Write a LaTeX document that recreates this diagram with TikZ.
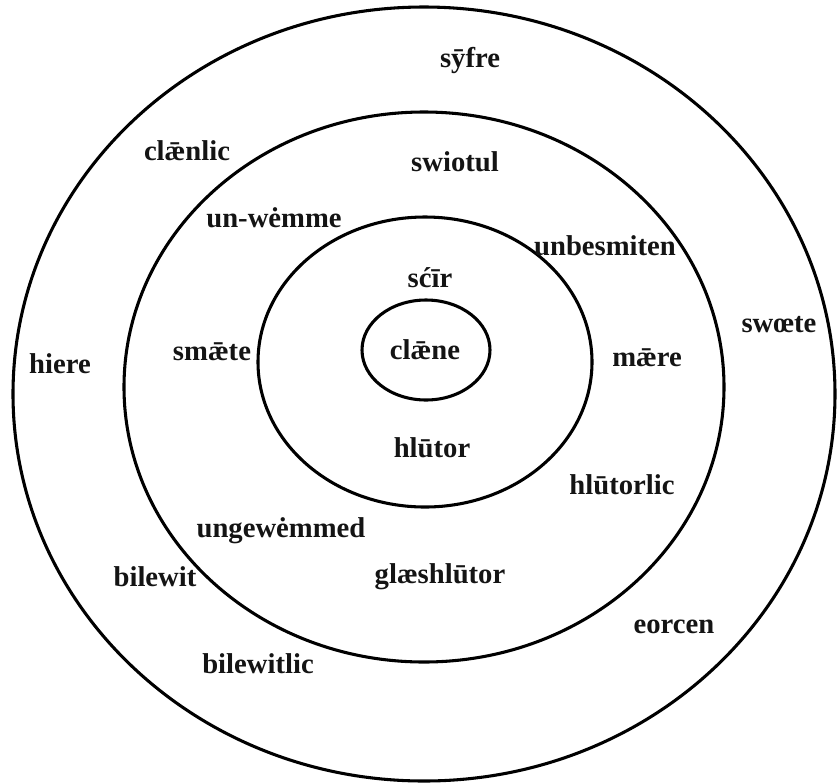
\documentclass[tikz,border=0pt]{standalone}
\usepackage{fontspec}
\setmainfont{Liberation Serif}
\usetikzlibrary{positioning}
\definecolor{ringc}{RGB}{0,0,0}
\definecolor{wordc}{RGB}{20,20,20}
\tikzset{
  ring/.style={draw=ringc,line width=2.3pt},
  word/.style={font=\fontsize{21.5}{24}\selectfont\bfseries,text=wordc,inner sep=0pt}
}

\begin{document}
\begin{tikzpicture}[x=0.75pt,y=-0.75pt]

\useasboundingbox (0,0) rectangle (839,783);
% rings: {cx, cy, rx, ry}
\foreach \cx/\cy/\rx/\ry in {
   424/394/411/387,
   424/387/300/275,
   425/362/167/145,
   426/350/64/50}{
  \draw[ring] (\cx,\cy) ellipse [x radius=\rx*0.75pt, y radius=\ry*0.75pt];
}

% words: {name, x, y, text}
\foreach \n/\x/\y/\w in {
   syfre/470/60/{sȳfre},
   claenlic/187/151/{clǣnlic},
   swiotul/455/162/{swiotul},
   unwemme/274/218/{un-wėmme},
   unbesmiten/605/246/{unbesmiten},
   scir/430/278/{sćīr},
   hiere/60/364/{hiere},
   smaete/212/352/{smǣte},
   claene/425/350/{clǣne},
   maere/647/358/{mǣre},
   swoete/779/325/{swœte},
   hlutor/432/448/{hlūtor},
   hlutorlic/622/485/{hlūtorlic},
   ungewemmed/281/531/{ungewėmmed},
   bilewit/155/577/{bilewit},
   glaeshlutor/440/577/{glæshlūtor},
   eorcen/674/627/{eorcen},
   bilewitlic/258/664/{bilewitlic}}{
  \node[word] (\n) at (\x,\y) {\w};
}

\end{tikzpicture}
\end{document}
